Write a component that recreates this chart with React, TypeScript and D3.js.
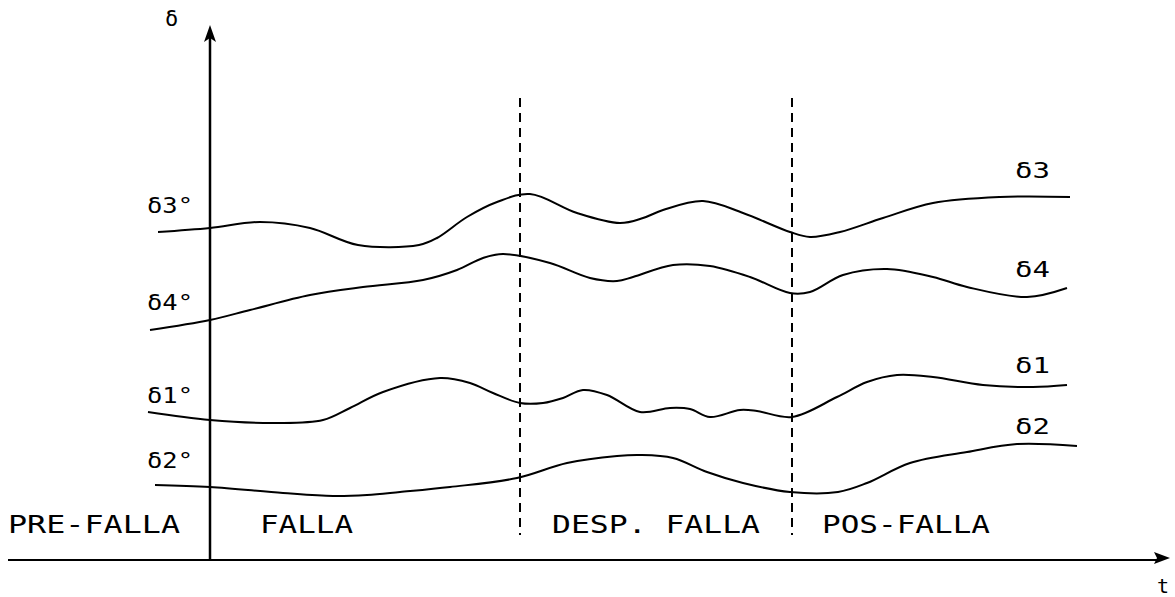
import React from "react";
import * as d3 from "d3";

// time t (0 = fault instant on the δ axis), δ in drawing units above the t axis
const delta3: [number, number][] = [
  [-52, 328], [0, 332], [50, 338], [100, 332], [148, 315], [209, 315], [227, 322],
  [257, 343], [287, 358], [320, 366], [367, 347], [410, 337], [433, 342], [453, 350],
  [493, 359], [533, 347], [580, 328], [600, 323], [630, 328], [673, 342], [723, 357],
  [790, 363], [860, 363],
];
const delta4: [number, number][] = [
  [-60, 230], [0, 240], [40, 250], [100, 265], [153, 273], [213, 280], [247, 290],
  [273, 302], [293, 306], [340, 297], [380, 282], [407, 279], [423, 283], [463, 295],
  [500, 294], [540, 283], [580, 267], [600, 268], [633, 285], [677, 291], [723, 283],
  [757, 273], [817, 263], [857, 272],
];
const delta1: [number, number][] = [
  [-62, 148], [0, 140], [67, 137], [113, 140], [140, 152], [173, 168], [230, 182],
  [260, 177], [283, 167], [310, 157], [333, 157], [353, 162], [373, 170], [397, 165],
  [430, 148], [460, 152], [480, 151], [500, 143], [530, 150], [547, 149], [582, 143],
  [627, 163], [657, 178], [687, 185], [723, 183], [773, 175], [823, 173], [857, 175],
];
const delta2: [number, number][] = [
  [-55, 75], [0, 73], [73, 67], [123, 64], [157, 65], [190, 68], [240, 73], [307, 82],
  [357, 97], [407, 104], [430, 105], [463, 102], [497, 88], [533, 77], [580, 68],
  [628, 68], [657, 77], [700, 97], [757, 108], [807, 116], [867, 114],
];

const seriesNames = ["δ3", "δ4", "δ1", "δ2"];
const seriesData = [delta3, delta4, delta1, delta2];
const startLabels = ["δ3°", "δ4°", "δ1°", "δ2°"];
const startLabelValues = [347, 250, 157, 92];
const endLabelValues = [382, 283, 187, 126];

const boundaries = [310, 582];
const regionLabels = ["PRE-FALLA", "FALLA", "DESP. FALLA", "POS-FALLA"];
const regionStarts = [-202, 50, 342, 612];
const regionEnds = [-30, 143, 550, 780];

const W = 1175;
const H = 597;

export default function App() {
  const x = d3.scaleLinear().domain([0, 960]).range([210, 1170]);
  const y = d3.scaleLinear().domain([0, 560]).range([560, 0]);
  const line = d3
    .line<[number, number]>()
    .x((d) => x(d[0]))
    .y((d) => y(d[1]))
    .curve(d3.curveCatmullRom.alpha(0.5));

  const font = "'DejaVu Sans Mono', monospace";
  const ax0 = x(0);
  const ay0 = y(0);
  const yTop = y(535);
  const xRight = x(960);

  return (
    <div style={{ position: "absolute", left: 0, top: 0 }}>
      <svg width={W} height={H} style={{ display: "block", background: "#fff" }}>
        {/* t axis */}
        <line x1={x(-202)} y1={ay0} x2={xRight - 12} y2={ay0} stroke="#000" strokeWidth={2} />
        <path
          d={`M${xRight},${ay0 - 2} L${xRight - 16},${ay0 - 8} L${xRight - 13},${ay0 - 2} L${xRight - 16},${ay0 + 4} Z`}
          fill="#000"
        />
        {/* δ axis */}
        <line x1={ax0} y1={ay0} x2={ax0} y2={yTop + 12} stroke="#000" strokeWidth={2.5} />
        <path
          d={`M${ax0},${yTop} L${ax0 - 6},${yTop + 17} L${ax0},${yTop + 13} L${ax0 + 6},${yTop + 17} Z`}
          fill="#000"
        />
        <text x={165} y={26} fontFamily={font} fontSize={22}>δ</text>
        <text x={1157} y={593} fontFamily={font} fontSize={20}>t</text>

        {/* boundaries */}
        {boundaries.map((b, i) => (
          <line
            key={i}
            x1={x(b)}
            x2={x(b)}
            y1={y(462)}
            y2={y(25)}
            stroke="#000"
            strokeWidth={2}
            strokeDasharray="9 6"
          />
        ))}

        {/* curves */}
        {seriesData.map((s, i) => (
          <path key={seriesNames[i]} d={line(s) || ""} fill="none" stroke="#000" strokeWidth={2} />
        ))}

        {/* start labels */}
        {startLabels.map((l, i) => (
          <text
            key={l}
            x={147}
            y={y(startLabelValues[i])}
            fontFamily={font}
            fontSize={21}
            textLength={46}
            lengthAdjust="spacingAndGlyphs"
          >
            {l}
          </text>
        ))}
        {/* end labels */}
        {seriesNames.map((l, i) => (
          <text
            key={l}
            x={1015}
            y={y(endLabelValues[i])}
            fontFamily={font}
            fontSize={21}
            textLength={35}
            lengthAdjust="spacingAndGlyphs"
          >
            {l}
          </text>
        ))}

        {/* region labels */}
        {regionLabels.map((l, i) => (
          <text
            key={l}
            x={x(regionStarts[i])}
            y={y(27)}
            fontFamily={font}
            fontSize={24}
            textLength={x(regionEnds[i]) - x(regionStarts[i])}
            lengthAdjust="spacingAndGlyphs"
          >
            {l}
          </text>
        ))}
      </svg>
    </div>
  );
}
